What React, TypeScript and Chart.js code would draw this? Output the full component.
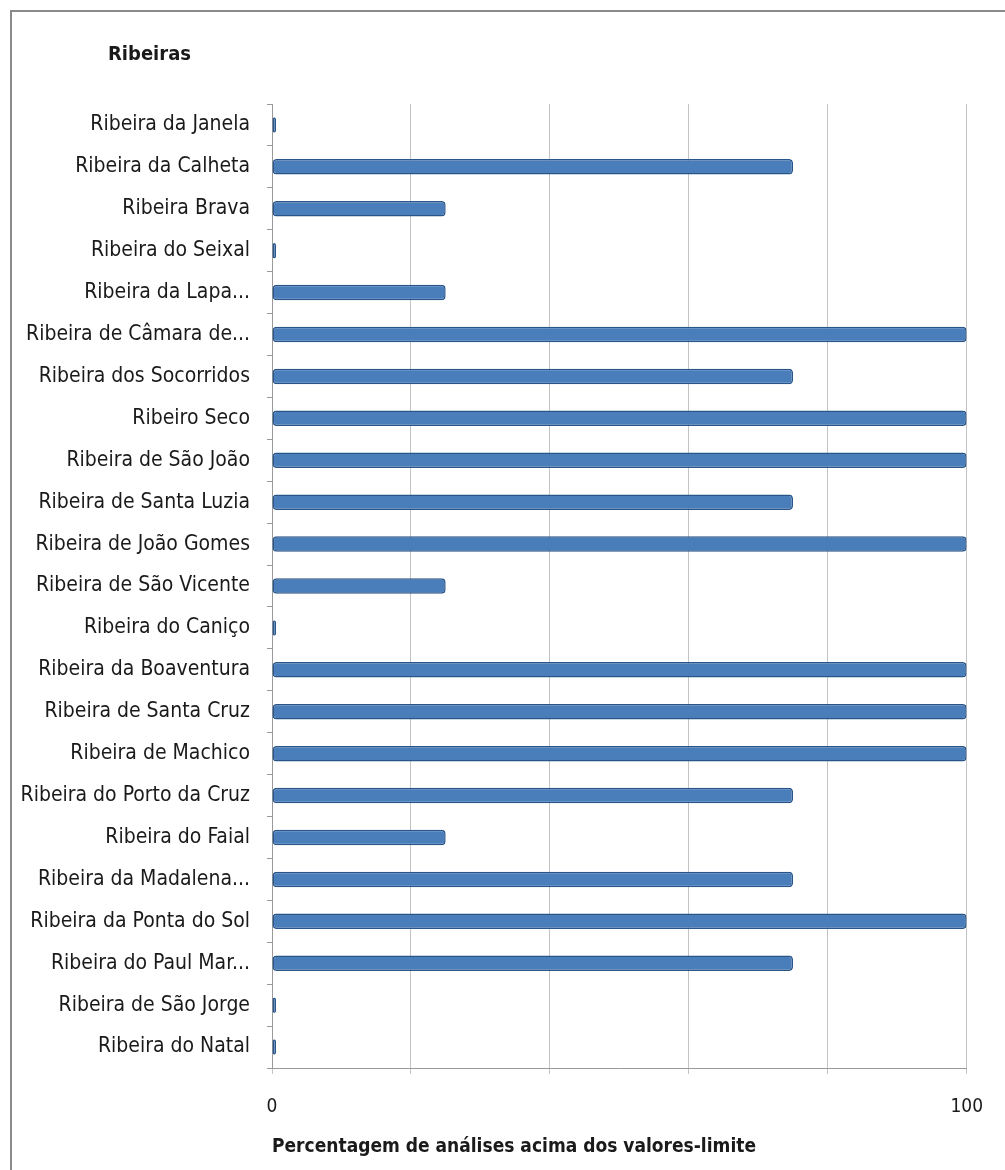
import React, { useRef, useEffect } from 'react';
import { Chart, registerables } from 'chart.js';

Chart.register(...registerables);

const labels = [
  'Ribeira da Janela',
  'Ribeira da Calheta',
  'Ribeira Brava',
  'Ribeira do Seixal',
  'Ribeira da Lapa...',
  'Ribeira de Câmara de...',
  'Ribeira dos Socorridos',
  'Ribeiro Seco',
  'Ribeira de São João',
  'Ribeira de Santa Luzia',
  'Ribeira de João Gomes',
  'Ribeira de São Vicente',
  'Ribeira do Caniço',
  'Ribeira da Boaventura',
  'Ribeira de Santa Cruz',
  'Ribeira de Machico',
  'Ribeira do Porto da Cruz',
  'Ribeira do Faial',
  'Ribeira da Madalena...',
  'Ribeira da Ponta do Sol',
  'Ribeira do Paul Mar...',
  'Ribeira de São Jorge',
  'Ribeira do Natal',
];

const percentages = [0, 75, 25, 0, 25, 100, 75, 100, 100, 75, 100, 25, 0, 100, 100, 100, 75, 25, 75, 100, 75, 0, 0];

const shownTicks = [0, 100];

const chartTitle = 'Ribeiras';
const axisTitle = 'Percentagem de análises acima dos valores-limite';

const FONT = "'Liberation Sans Narrow', 'DejaVu Sans Condensed', 'Open Sans', sans-serif";

// draws the "Ribeiras" heading in the top-left corner
const cornerTitle = {
  id: 'cornerTitle',
  afterDraw(chart: Chart) {
    const ctx = chart.ctx;
    ctx.save();
    ctx.font = `bold 20px ${FONT}`;
    ctx.fillStyle = '#1a1a1a';
    ctx.textBaseline = 'middle';
    ctx.textAlign = 'left';
    ctx.fillText(chartTitle, 108, 55);
    ctx.restore();
  },
};

const App: React.FC = () => {
  const canvasRef = useRef<HTMLCanvasElement>(null);
  const chartInstance = useRef<Chart | null>(null);

  useEffect(() => {
    document.body.style.margin = '0';
    if (!canvasRef.current) return;
    const ctx = canvasRef.current.getContext('2d');
    if (!ctx) return;

    if (chartInstance.current) chartInstance.current.destroy();

    chartInstance.current = new Chart(ctx, {
      type: 'bar',
      data: {
        labels,
        datasets: [
          {
            label: axisTitle,
            data: percentages,
            backgroundColor: '#4a7ebb',
            borderColor: '#2a5588',
            borderWidth: 1.5,
            borderRadius: 4,
            borderSkipped: false,
            minBarLength: 4,
            barPercentage: 0.37,
            categoryPercentage: 1,
          },
        ],
      },
      plugins: [cornerTitle],
      options: {
        animation: false,
        responsive: true,
        maintainAspectRatio: false,
        indexAxis: 'y',
        layout: { padding: { top: 104, right: 38, left: 0, bottom: 0 } },
        plugins: {
          legend: { display: false },
          title: { display: false },
          tooltip: { enabled: false },
        },
        scales: {
          x: {
            min: 0,
            max: 100,
            ticks: {
              stepSize: 20,
              padding: 22,
              color: '#1a1a1a',
              font: { family: FONT, size: 19 },
              maxRotation: 0,
              callback: (value) => (shownTicks.includes(value as number) ? String(value) : ''),
            },
            grid: { color: '#c4c4c4', lineWidth: 1, tickLength: 6 },
            border: { color: '#9a9a9a' },
            title: {
              display: true,
              text: axisTitle,
              align: 'start',
              color: '#1a1a1a',
              font: { family: FONT, size: 19, weight: 'bold' },
              padding: { top: 0, bottom: 12 },
            },
            afterFit: (scale) => {
              scale.height = 102;
            },
          },
          y: {
            ticks: {
              padding: 17,
              color: '#1a1a1a',
              font: { family: FONT, size: 21 },
              autoSkip: false,
            },
            grid: { drawOnChartArea: false, tickLength: 5, color: '#9a9a9a', offset: true },
            border: { color: '#9a9a9a' },
            afterFit: (scale) => {
              scale.width = 272;
            },
          },
        },
      },
    });

    return () => {
      if (chartInstance.current) {
        chartInstance.current.destroy();
        chartInstance.current = null;
      }
    };
  }, []);

  return (
    <div style={{ position: 'relative', width: 1005, height: 1170, background: '#fff', overflow: 'hidden' }}>
      <div
        style={{
          position: 'absolute',
          left: 10,
          top: 10,
          width: 1100,
          height: 1300,
          borderTop: '2px solid #8a8a8a',
          borderLeft: '2px solid #8a8a8a',
          boxSizing: 'border-box',
        }}
      />
      <div style={{ position: 'absolute', left: 0, top: 0, width: 1005, height: 1170 }}>
        <canvas ref={canvasRef} />
      </div>
    </div>
  );
};

export default App;
